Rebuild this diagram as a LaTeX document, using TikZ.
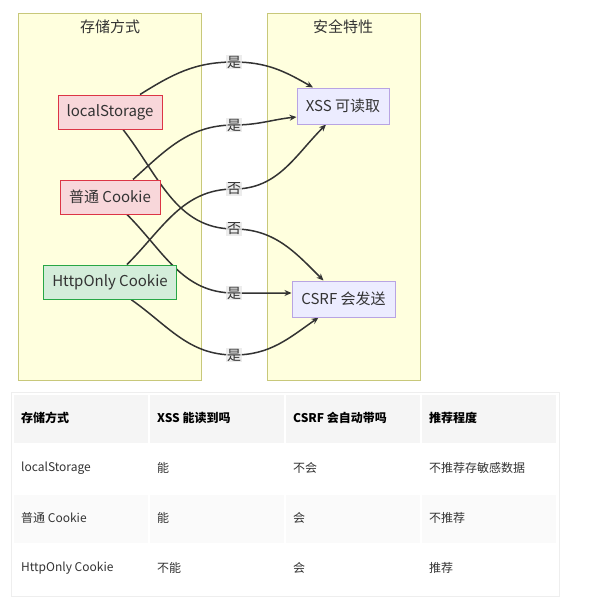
\documentclass[tikz,border=0pt]{standalone}
\usepackage{fontspec}
\setmainfont{Noto Sans CJK SC}
\usetikzlibrary{arrows.meta}
\definecolor{clfill}{HTML}{FFFFDE}
\definecolor{clline}{HTML}{C8C87A}
\definecolor{txt}{HTML}{333333}
\definecolor{pinkfill}{HTML}{F8D7DA}
\definecolor{pinkline}{HTML}{DC3545}
\definecolor{greenfill}{HTML}{D4EDDA}
\definecolor{greenline}{HTML}{28A745}
\definecolor{purfill}{HTML}{ECECFF}
\definecolor{purline}{HTML}{B8A4E3}
\definecolor{lblbg}{HTML}{E8E8E8}
\definecolor{hdrfill}{HTML}{F5F5F5}
\definecolor{altfill}{HTML}{FAFAFA}
\definecolor{tblline}{HTML}{EEEEEE}
\pgfdeclarelayer{bg}
\pgfdeclarelayer{edges}
\pgfsetlayers{bg,edges,main}
\tikzset{
  cluster/.style={draw=clline, fill=clfill, line width=1pt},
  cltitle/.style={text=txt, font=\fontsize{15}{18}\selectfont, inner sep=0pt},
  box/.style={draw, line width=1pt, text=txt, font=\fontsize{15}{18}\selectfont, minimum height=34pt, inner xsep=5pt},
  redbox/.style={box, fill=pinkfill, draw=pinkline},
  greenbox/.style={box, fill=greenfill, draw=greenline},
  purbox/.style={box, fill=purfill, draw=purline, minimum height=36pt},
  elabel/.style={fill=lblbg, fill opacity=0.8, text opacity=1, text=txt, font=\fontsize{14}{17}\selectfont, inner sep=1pt},
  edge/.style={draw=txt, line width=1.5pt},
  arr/.style={edge, -{Stealth[length=7pt,width=6pt]}},
  cell/.style={inner sep=0pt, anchor=west, text=txt, font=\fontsize{12}{14}\selectfont},
  hcell/.style={cell, text=black, font=\fontsize{12}{14}\selectfont\bfseries},
}
\begin{document}
\begin{tikzpicture}[x=1pt,y=1pt]
\useasboundingbox (0,0) rectangle (593,-610);
% clusters
\begin{pgfonlayer}{bg}
\fill[white] (0,0) rectangle (593,-610);
\draw[cluster] (18,-14) rectangle (201,-380);
\draw[cluster] (267,-14) rectangle (420,-380);
\end{pgfonlayer}
\node[cltitle] (t1) at (110,-27) {存储方式};
\node[cltitle] (t2) at (343,-27) {安全特性};
% nodes
\node[redbox, minimum width=104pt] (ls) at (110,-112) {localStorage};
\node[redbox, minimum width=100pt] (pc) at (110,-197) {普通 Cookie};
\node[greenbox, minimum width=133pt] (ho) at (110,-282) {HttpOnly Cookie};
\node[purbox, minimum width=92pt] (xss) at (343,-106) {XSS 可读取};
\node[purbox, minimum width=103pt] (csrf) at (343.5,-299) {CSRF 会发送};
% edge labels
\node[elabel] (l1) at (234,-62) {是};
\node[elabel] (l2) at (234,-125) {是};
\node[elabel] (l3) at (234,-189) {否};
\node[elabel] (l4) at (234,-229) {否};
\node[elabel] (l5) at (234,-293) {是};
\node[elabel] (l6) at (234,-355) {是};
% edges
\begin{pgfonlayer}{edges}
\draw[arr] ([xshift=30pt]ls.north) to[out=32,in=180] (l1.center) to[out=0,in=150] ([xshift=-30pt]xss.north);
\draw[arr] ([xshift=23pt]pc.north) to[out=42,in=180] (l2.center) to[out=0,in=186] ([yshift=-11pt]xss.west);
\draw[arr] ([xshift=17pt]ho.north) to[out=45,in=180] (l3.center) to[out=0,in=225] ([xshift=-17pt]xss.south);
\draw[arr] ([xshift=13pt]ls.south) to[out=-52,in=180] (l4.center) to[out=0,in=135] ([xshift=-20pt]csrf.north);
\draw[arr] ([xshift=17pt]pc.south) to[out=-45,in=180] (l5.center) to[out=0,in=180] ([yshift=6pt]csrf.west);
\draw[arr] ([xshift=21pt]ho.south) to[out=-35,in=180] (l6.center) to[out=0,in=215] ([xshift=-25pt]csrf.south);
\end{pgfonlayer}
% table
\begin{pgfonlayer}{bg}
\draw[tblline, line width=1pt] (11,-392) rectangle (559,-596);
\foreach \cx in {14,150,286,422} {
  \fill[hdrfill] (\cx,-395) rectangle ++(134,-48);
  \fill[altfill] (\cx,-495) rectangle ++(134,-48);
}
\end{pgfonlayer}
\node[hcell] (h1) at (21,-418) {存储方式};
\node[hcell] (h2) at (157,-418) {XSS 能读到吗};
\node[hcell] (h3) at (293,-418) {CSRF 会自动带吗};
\node[hcell] (h4) at (429,-418) {推荐程度};
\node[cell] (a1) at (21,-468) {localStorage};
\node[cell] (a2) at (157,-468) {能};
\node[cell] (a3) at (293,-468) {不会};
\node[cell] (a4) at (429,-468) {不推荐存敏感数据};
\node[cell] (b1) at (21,-518) {普通 Cookie};
\node[cell] (b2) at (157,-518) {能};
\node[cell] (b3) at (293,-518) {会};
\node[cell] (b4) at (429,-518) {不推荐};
\node[cell] (c1) at (21,-568) {HttpOnly Cookie};
\node[cell] (c2) at (157,-568) {不能};
\node[cell] (c3) at (293,-568) {会};
\node[cell] (c4) at (429,-568) {推荐};
\end{tikzpicture}
\end{document}
